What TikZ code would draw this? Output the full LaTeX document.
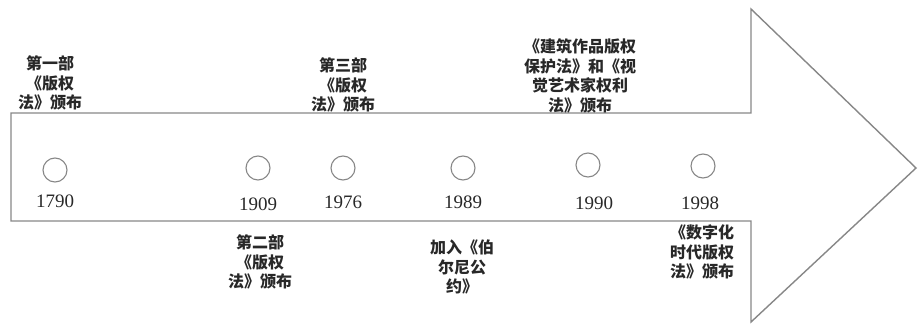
\documentclass[tikz,border=0pt]{standalone}
\usepackage{fontspec}
\setmainfont{Liberation Serif}
\newfontfamily\cjk{Noto Sans CJK SC}
\usepackage{xcolor}
\usepackage{tikz}
\definecolor{linegray}{RGB}{135,135,135}
\definecolor{textgray}{RGB}{40,40,40}

\begin{document}
\begin{tikzpicture}[x=1pt, y=-1pt,
    evt/.style={font=\cjk\bfseries\fontsize{16}{19.5}\selectfont, align=center, text=textgray, inner sep=0pt},
    yr/.style={font=\fontsize{19}{19}\selectfont, text=textgray, inner sep=0pt},
    dot/.style={draw=linegray, line width=1.1pt, circle, minimum size=24pt, inner sep=0pt}]
  \useasboundingbox (0,0) rectangle (918,324);

  \draw[linegray, line width=1.4pt] (11,113) -- (751,113) -- (751,9) -- (916,168)
    -- (751,322) -- (751,221) -- (11,221) -- cycle;

  \foreach \name/\x/\y/\yx/\yy in {1790/55/170/55/201, 1909/258/168/258/204,
      1976/343/168/343/202, 1989/463/168/463/202, 1990/588/165/594/203,
      1998/703/166/700/203}
  {
    \node[dot] (c\name) at (\x,\y) {};
    \node[yr] (y\name) at (\yx,\yy) {\name};
  }

  \node[evt] (e1790) at (50,83) {第一部\\《版权\\法》颁布};
  \node[evt] (e1976) at (343,85) {第三部\\《版权\\法》颁布};
  \node[evt] (e1990) at (580,76) {《建筑作品版权\\保护法》和《视\\觉艺术家权利\\法》颁布};
  \node[evt] (e1909) at (260,262) {第二部\\《版权\\法》颁布};
  \node[evt] (e1989) at (462,267) {加入《伯\\尔尼公\\约》};
  \node[evt] (e1998) at (702,252) {《数字化\\时代版权\\法》颁布};
\end{tikzpicture}
\end{document}
